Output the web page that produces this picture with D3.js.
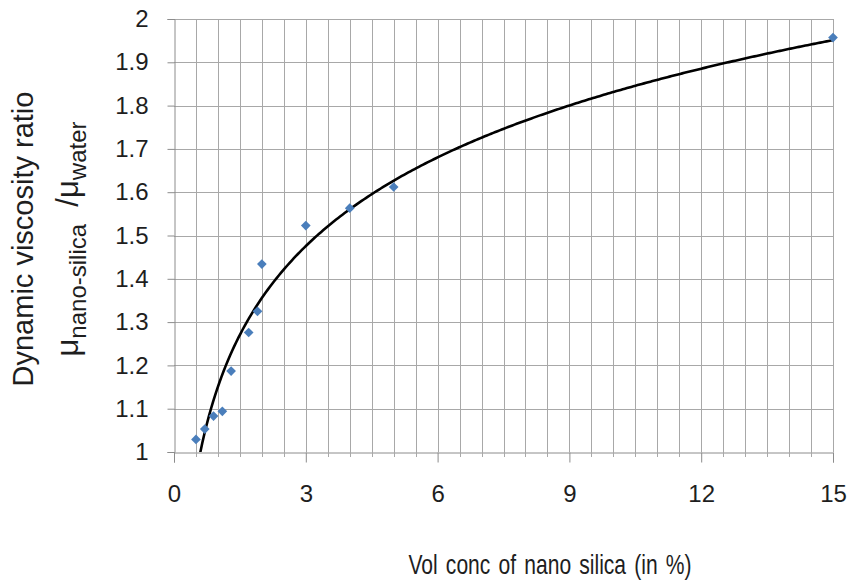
<!DOCTYPE html>
<html>
<head>
<meta charset="utf-8">
<script src="https://cdn.jsdelivr.net/npm/d3@7/dist/d3.min.js"></script>
<style>
  html, body { margin: 0; padding: 0; background: #fff; }
  svg { display: block; font-family: "Liberation Sans", Arial, sans-serif; }
</style>
</head>
<body>
<svg id="chart" width="852" height="582"></svg>
<script>
// Measured viscosity ratios of nano-silica dispersions
const volConc = [0.5, 0.7, 0.9, 1.1, 1.3, 1.7, 1.9, 2.0, 3, 4, 5, 15];
const viscRatio = [1.029, 1.053, 1.083, 1.094, 1.187, 1.276, 1.325, 1.434, 1.523, 1.563, 1.612, 1.957];
const xTicks = [0, 3, 6, 9, 12, 15];
const yTicks = [1, 1.1, 1.2, 1.3, 1.4, 1.5, 1.6, 1.7, 1.8, 1.9, 2];

const svg = d3.select("#chart");
const plotL = 174, plotR = 833, plotT = 19, plotB = 452;

const x = d3.scaleLinear().domain([0, 15]).range([plotL, plotR]);
const y = d3.scaleLinear().domain([1, 2]).range([plotB, plotT]);

const gridColor = "#a8a8a8";
const textColor = "#1e1e1e";

// grid: vertical every 0.5, horizontal every 0.1
const xGrid = d3.range(1, 31).map(i => i * 0.5);
const yGrid = d3.range(1, 11).map(i => 1 + i * 0.1);

svg.append("g").selectAll("line").data(xGrid).join("line")
  .attr("x1", d => Math.round(x(d)) + 0.5).attr("x2", d => Math.round(x(d)) + 0.5)
  .attr("y1", plotT).attr("y2", plotB)
  .attr("stroke", gridColor).attr("stroke-width", 1);

svg.append("g").selectAll("line").data(yGrid).join("line")
  .attr("x1", plotL).attr("x2", plotR)
  .attr("y1", d => Math.round(y(d)) + 0.5).attr("y2", d => Math.round(y(d)) + 0.5)
  .attr("stroke", gridColor).attr("stroke-width", 1);

// x axis with major ticks every 3 and minor ticks every 0.5
const xAxis = d3.axisBottom(x).tickValues(xTicks).tickSize(10).tickPadding(22)
  .tickFormat(d3.format("d"));
const gx = svg.append("g").attr("transform", `translate(0,${plotB + 0.5})`).call(xAxis);
gx.select(".domain").attr("stroke", "#8c8c8c");
gx.selectAll(".tick line").attr("stroke", "#8c8c8c");
gx.selectAll(".tick text").attr("font-size", 24).attr("fill", textColor)
  .attr("font-family", "'Liberation Sans', Arial, sans-serif");
svg.append("g").selectAll("line").data(xGrid.filter(d => d % 3 !== 0)).join("line")
  .attr("x1", d => Math.round(x(d)) + 0.5).attr("x2", d => Math.round(x(d)) + 0.5)
  .attr("y1", plotB).attr("y2", plotB + 5)
  .attr("stroke", gridColor);

// y axis
const yAxis = d3.axisLeft(y).tickValues(yTicks).tickSize(7).tickPadding(19)
  .tickFormat(d => d3.format("~g")(+d.toFixed(1)));
const gy = svg.append("g").attr("transform", `translate(${plotL + 0.5},0)`).call(yAxis);
gy.select(".domain").attr("stroke", "#8c8c8c");
gy.selectAll(".tick line").attr("stroke", "#8c8c8c");
gy.selectAll(".tick text").attr("font-size", 24).attr("fill", textColor)
  .attr("font-family", "'Liberation Sans', Arial, sans-serif");

// logarithmic least-squares trendline: ratio = a*ln(c) + b
const lx = volConc.map(Math.log);
const mx = d3.mean(lx), my = d3.mean(viscRatio);
const slope = d3.sum(lx, (v, i) => (v - mx) * (viscRatio[i] - my)) / d3.sum(lx, v => (v - mx) ** 2);
const intercept = my - slope * mx;
const fitX = d3.range(0, 301).map(i => volConc[0] + (d3.max(volConc) - volConc[0]) * i / 300);

svg.append("clipPath").attr("id", "plot-clip")
  .append("rect").attr("x", plotL).attr("y", plotT - 5).attr("width", plotR - plotL + 5).attr("height", plotB - plotT + 5);

svg.append("path")
  .datum(fitX)
  .attr("clip-path", "url(#plot-clip)")
  .attr("fill", "none").attr("stroke", "#000").attr("stroke-width", 2.6)
  .attr("d", d3.line().x(d => x(d)).y(d => y(slope * Math.log(d) + intercept)));

// data markers
const diamond = d3.symbol().type(d3.symbolDiamond2).size(60);
svg.append("g").selectAll("path").data(volConc).join("path")
  .attr("transform", (d, i) => `translate(${x(d)},${y(viscRatio[i])})`)
  .attr("d", diamond)
  .attr("fill", "#4a7ebb");

// axis titles (x title set in a horizontally condensed face)
svg.append("text")
  .attr("transform", "translate(550,574) scale(0.78,1)")
  .attr("text-anchor", "middle").attr("font-size", 27).attr("fill", textColor)
  .attr("word-spacing", 3)
  .text("Vol conc of nano silica (in %)");

const yTitle = svg.append("g").attr("transform", "translate(0,239) rotate(-90)");
yTitle.append("text")
  .attr("x", 0).attr("y", 33)
  .attr("text-anchor", "middle").attr("font-size", 29).attr("fill", textColor)
  .text("Dynamic viscosity ratio");
const t2 = yTitle.append("text")
  .attr("x", 0).attr("y", 78)
  .attr("text-anchor", "middle").attr("font-size", 31).attr("fill", textColor)
  .attr("xml:space", "preserve");
t2.append("tspan").text("μ");
t2.append("tspan").attr("font-size", 24).attr("dy", 8).text("nano-silica");
t2.append("tspan").attr("dy", -8).text("\u00a0\u00a0/μ");
t2.append("tspan").attr("font-size", 24).attr("dy", 8).text("water");
</script>
</body>
</html>
